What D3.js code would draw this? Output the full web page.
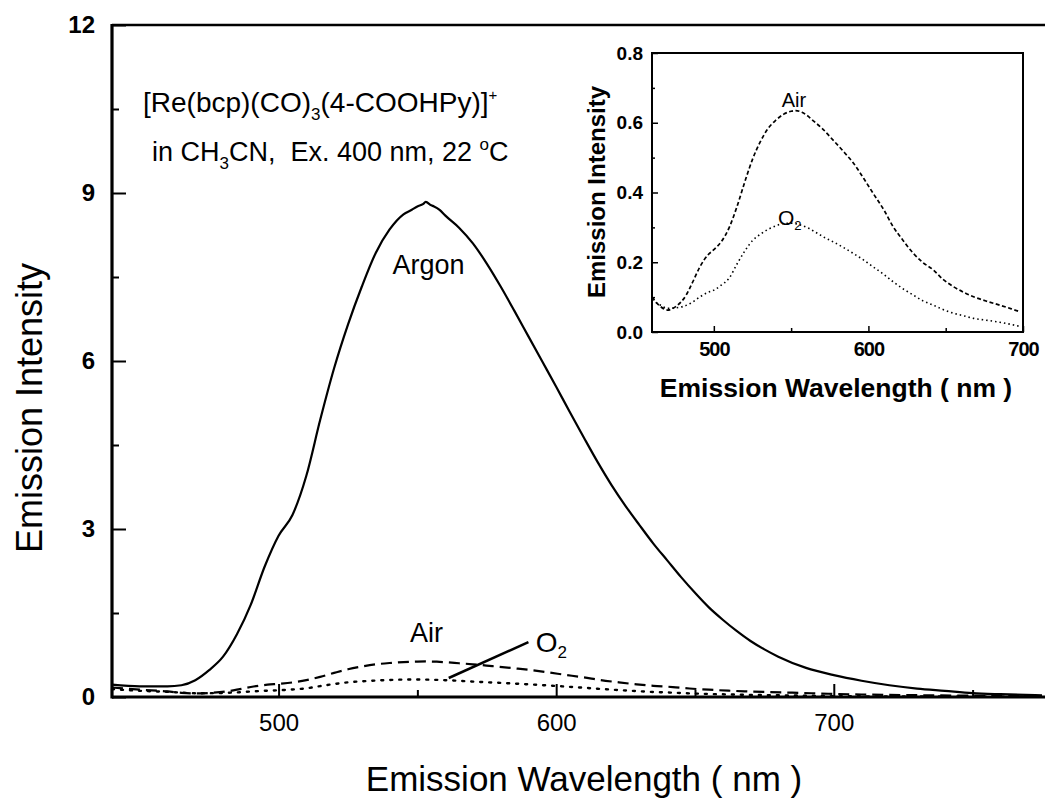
<!DOCTYPE html>
<html><head><meta charset="utf-8">
<script src="https://cdn.jsdelivr.net/npm/d3@7"></script>
<style>body{margin:0;background:#fff}svg{display:block}text{font-family:"Liberation Sans",Arial,sans-serif;fill:#000}</style>
</head><body><svg id="c" width="1045" height="800"></svg>
<script>
// ---------- data ----------
const argonWl = [440,450,460,465,470,475,480,485,490,495,500,505,510,515,520,525,530,535,540,545,548,550,552,553,555,556,558,560,565,570,575,580,585,590,595,600,605,610,615,620,625,630,635,640,645,650,655,660,665,670,675,680,690,700,710,720,730,740,750,760,775];
const argonVal = [0.22,0.19,0.19,0.21,0.30,0.48,0.72,1.12,1.65,2.33,2.88,3.25,3.95,4.95,5.87,6.65,7.33,7.93,8.35,8.62,8.70,8.76,8.80,8.84,8.78,8.76,8.70,8.60,8.38,8.10,7.74,7.33,6.89,6.44,5.99,5.54,5.08,4.63,4.19,3.78,3.41,3.07,2.74,2.44,2.14,1.86,1.60,1.38,1.18,1.00,0.85,0.72,0.52,0.39,0.29,0.21,0.15,0.11,0.07,0.05,0.03];
const airWl = [440,450,460,465,470,476,482,486,491,496,500,505,510,515,520,525,530,535,540,545,550,553,557,560,565,570,577,585,590,597,603,610,616,622,629,635,642,648,655,662,668,676,685,692,698,710,730,750,775];
const airVal = [0.17,0.13,0.10,0.075,0.063,0.075,0.105,0.14,0.187,0.22,0.236,0.26,0.30,0.36,0.43,0.495,0.545,0.583,0.607,0.624,0.633,0.635,0.63,0.622,0.603,0.584,0.551,0.512,0.486,0.44,0.398,0.35,0.302,0.265,0.226,0.20,0.178,0.152,0.13,0.113,0.101,0.089,0.077,0.067,0.058,0.045,0.032,0.024,0.018];
const o2Wl = [440,450,460,465,470,475,480,486,491,496,500,505,510,515,520,525,530,535,540,545,550,556,561,567,572,577,584,590,597,603,610,616,622,629,635,642,648,655,662,668,676,685,692,698,710,740,775];
const o2Val = [0.14,0.11,0.092,0.078,0.068,0.069,0.073,0.085,0.101,0.113,0.12,0.135,0.155,0.195,0.232,0.262,0.28,0.294,0.304,0.311,0.312,0.307,0.298,0.283,0.27,0.259,0.242,0.226,0.206,0.187,0.165,0.144,0.125,0.106,0.09,0.077,0.065,0.054,0.046,0.039,0.034,0.028,0.022,0.016,0.012,0.008,0.005];
const mainXTicks = [500,600,700];
const mainXMinor = [550,650,750];
const mainYTicks = [0,3,6,9,12];
const mainYMinor = [1.5,4.5,7.5,10.5];
const insetXTicks = [500,600,700];
const insetXMinor = [550,650];
const insetYTicks = [0,0.2,0.4,0.6,0.8];
const insetYMinor = [0.1,0.3,0.5,0.7];

const zip = (a,b)=>a.map((d,i)=>[d,b[i]]);
const svg = d3.select("#c");
const FONT = '"Liberation Sans",Arial,sans-serif';

// ---------- main ----------
const x = d3.scaleLinear().domain([440,775]).range([112,1042]);
const y = d3.scaleLinear().domain([0,12]).range([697,25]);
const line = d3.line().x(d=>x(d[0])).y(d=>y(d[1])).curve(d3.curveMonotoneX);

const g = svg.append("g");
g.append("path").datum(zip(argonWl,argonVal)).attr("d",line).attr("fill","none").attr("stroke","#000").attr("stroke-width",2.2);
g.append("path").datum(zip(airWl,airVal)).attr("d",line).attr("fill","none").attr("stroke","#000").attr("stroke-width",2.2).attr("stroke-dasharray","11,6");
g.append("path").datum(zip(o2Wl,o2Val)).attr("d",line).attr("fill","none").attr("stroke","#000").attr("stroke-width",2.4).attr("stroke-dasharray","2,7").attr("stroke-linecap","round");

// axes
const xAx = g.append("g").attr("transform","translate(0,697)")
  .call(d3.axisBottom(x).tickValues(mainXTicks).tickSize(-13).tickPadding(24).tickFormat(d3.format("d")));
xAx.selectAll(".tick text").attr("font-size",24).attr("font-family",FONT).attr("dy","0.4em");
const xAxMin = g.append("g").attr("transform","translate(0,697)")
  .call(d3.axisBottom(x).tickValues(mainXMinor).tickSize(-7).tickFormat(""));
const yAx = g.append("g").attr("transform","translate(112,0)")
  .call(d3.axisLeft(y).tickValues(mainYTicks).tickSize(-14).tickPadding(17).tickFormat(d3.format("d")));
yAx.selectAll(".tick text").attr("font-size",24).attr("font-weight","bold").attr("font-family",FONT);
const yAxMin = g.append("g").attr("transform","translate(112,0)")
  .call(d3.axisLeft(y).tickValues(mainYMinor).tickSize(-7).tickFormat(""));
[xAx,xAxMin,yAx,yAxMin].forEach(a=>{a.select(".domain").remove();a.selectAll(".tick line").attr("stroke","#000").attr("stroke-width",2);});
// frame lines
g.append("line").attr("x1",112).attr("x2",1045).attr("y1",697).attr("y2",697).attr("stroke","#000").attr("stroke-width",3.2);
g.append("line").attr("x1",112).attr("x2",112).attr("y1",24).attr("y2",698.5).attr("stroke","#000").attr("stroke-width",3.2);
g.append("line").attr("x1",112).attr("x2",1045).attr("y1",25).attr("y2",25).attr("stroke","#000").attr("stroke-width",2.6);

// titles
svg.append("text").attr("x",584).attr("y",791).attr("text-anchor","middle").attr("font-size",35).text("Emission Wavelength ( nm )");
svg.append("text").attr("transform","translate(42,408) rotate(-90)").attr("text-anchor","middle").attr("font-size",36).text("Emission Intensity");

// header text
const t1 = svg.append("text").attr("x",143).attr("y",112).attr("font-size",28);
t1.append("tspan").text("[Re(bcp)(CO)");
t1.append("tspan").attr("font-size",17).attr("dy",8).text("3");
t1.append("tspan").attr("dy",-8).text("(4-COOHPy)]");
t1.append("tspan").attr("font-size",15).attr("dy",-12).text("+");
const t2 = svg.append("text").attr("x",152).attr("y",161).attr("font-size",27);
t2.append("tspan").text("in CH");
t2.append("tspan").attr("font-size",17).attr("dy",8).text("3");
t2.append("tspan").attr("dy",-8).text("CN,\u00a0\u00a0Ex. 400 nm, 22 ");
t2.append("tspan").attr("font-size",17).attr("dy",-11).text("o");
t2.append("tspan").attr("dy",11).text("C");

// annotations
svg.append("text").attr("x",x(554)).attr("y",y(7.55)).attr("text-anchor","middle").attr("font-size",27).text("Argon");
svg.append("text").attr("x",x(553.3)).attr("y",y(0.98)).attr("text-anchor","middle").attr("font-size",27).text("Air");
const o2m = svg.append("text").attr("x",x(592.6)).attr("y",y(0.8)).attr("font-size",28);
o2m.append("tspan").text("O");
o2m.append("tspan").attr("font-size",17).attr("dy",6).text("2");
svg.append("line").attr("x1",x(590)).attr("y1",y(0.98)).attr("x2",x(561.3)).attr("y2",y(0.34)).attr("stroke","#000").attr("stroke-width",2.6);

// ---------- inset ----------
const ix = d3.scaleLinear().domain([460,700]).range([652,1023]);
const iy = d3.scaleLinear().domain([0,0.8]).range([332,53]);
const iline = d3.line().x(d=>ix(d[0])).y(d=>iy(d[1])).curve(d3.curveMonotoneX);
const ig = svg.append("g");
ig.append("clipPath").attr("id","iclip").append("rect").attr("x",652).attr("y",53).attr("width",371).attr("height",279);
const inAir = zip(airWl,airVal).filter(d=>d[0]>=455&&d[0]<=705);
const inO2 = zip(o2Wl,o2Val).filter(d=>d[0]>=455&&d[0]<=705);
ig.append("path").datum(inAir).attr("d",iline).attr("clip-path","url(#iclip)").attr("fill","none").attr("stroke","#000").attr("stroke-width",1.7).attr("stroke-dasharray","4,2.5");
ig.append("path").datum(inO2).attr("d",iline).attr("clip-path","url(#iclip)").attr("fill","none").attr("stroke","#000").attr("stroke-width",1.6).attr("stroke-dasharray","1.5,3");

const ixAx = ig.append("g").attr("transform","translate(0,332)")
  .call(d3.axisBottom(ix).tickValues(insetXTicks).tickSize(-6).tickPadding(10).tickFormat(d3.format("d")));
ixAx.selectAll(".tick text").attr("font-size",20).attr("font-weight","bold").attr("font-family",FONT).attr("letter-spacing","-1px");
const ixMin = ig.append("g").attr("transform","translate(0,332)")
  .call(d3.axisBottom(ix).tickValues(insetXMinor).tickSize(-4).tickFormat(""));
const iyAx = ig.append("g").attr("transform","translate(652,0)")
  .call(d3.axisLeft(iy).tickValues(insetYTicks).tickSize(-6).tickPadding(9).tickFormat(d3.format(".1f")));
iyAx.selectAll(".tick text").attr("font-size",19).attr("font-weight","bold").attr("font-family",FONT);
const iyMin = ig.append("g").attr("transform","translate(652,0)")
  .call(d3.axisLeft(iy).tickValues(insetYMinor).tickSize(-3).tickFormat(""));
[ixAx,ixMin,iyAx,iyMin].forEach(a=>{a.select(".domain").remove();a.selectAll(".tick line").attr("stroke","#000").attr("stroke-width",1.5);});
ig.append("rect").attr("x",652).attr("y",53).attr("width",371).attr("height",279).attr("fill","none").attr("stroke","#000").attr("stroke-width",2);

svg.append("text").attr("x",836).attr("y",397).attr("text-anchor","middle").attr("font-size",26.5).attr("font-weight","bold").text("Emission Wavelength ( nm )");
svg.append("text").attr("transform","translate(605,192) rotate(-90)").attr("text-anchor","middle").attr("font-size",24).attr("font-weight","bold").text("Emission Intensity");
svg.append("text").attr("x",ix(551.8)).attr("y",iy(0.645)).attr("text-anchor","middle").attr("font-size",20).text("Air");
const o2i = svg.append("text").attr("x",ix(541.5)).attr("y",iy(0.307)).attr("font-size",21);
o2i.append("tspan").text("O");
o2i.append("tspan").attr("font-size",13).attr("dy",5).text("2");
</script></body></html>
